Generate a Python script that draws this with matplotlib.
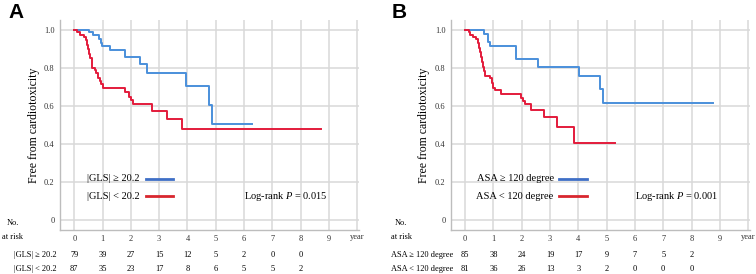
import numpy as np
import matplotlib
matplotlib.use('Agg')
import matplotlib.pyplot as plt

plt.rcParams['font.family'] = ['Liberation Serif', 'DejaVu Serif']
plt.rcParams['mathtext.fontset'] = 'custom'
plt.rcParams['mathtext.rm'] = 'Liberation Serif'
plt.rcParams['mathtext.it'] = 'Liberation Serif:italic'

# ---- data ----
years = list(range(10))

a_hi_t = [0, 0.52, 0.67, 0.88, 0.94, 0.98, 1.25, 1.78, 2.31, 2.57, 3.96, 4.76, 4.85, 6.28]
a_hi_s = [1.0, 0.988, 0.974, 0.956, 0.935, 0.918, 0.893, 0.856, 0.821, 0.772, 0.707, 0.605, 0.505, 0.505]
a_lo_t = [0, 0.08, 0.19, 0.34, 0.41, 0.45, 0.49, 0.52, 0.57, 0.61, 0.64, 0.72, 0.78, 0.84,
          0.90, 0.96, 1.02, 1.78, 1.94, 2.02, 2.08, 2.75, 3.26, 3.82, 8.70]
a_lo_s = [1.0, 0.991, 0.977, 0.965, 0.947, 0.921, 0.900, 0.877, 0.851, 0.825, 0.802, 0.789, 0.772, 0.749,
          0.732, 0.714, 0.696, 0.675, 0.649, 0.632, 0.611, 0.575, 0.532, 0.479, 0.479]

b_hi_t = [0, 0.67, 0.81, 0.89, 1.81, 2.59, 4.02, 4.78, 4.88, 8.75]
b_hi_s = [1.0, 0.982, 0.939, 0.917, 0.846, 0.804, 0.758, 0.688, 0.618, 0.618]
b_lo_t = [0, 0.12, 0.18, 0.27, 0.39, 0.44, 0.48, 0.51, 0.55, 0.59, 0.62, 0.65, 0.71, 0.88,
          0.94, 1.00, 1.06, 1.26, 1.97, 2.06, 2.12, 2.32, 2.77, 3.26, 3.85, 5.28]
b_lo_s = [1.0, 0.991, 0.977, 0.965, 0.953, 0.930, 0.907, 0.886, 0.860, 0.833, 0.807, 0.784, 0.760, 0.746,
          0.719, 0.693, 0.684, 0.663, 0.640, 0.625, 0.611, 0.577, 0.544, 0.489, 0.407, 0.407]

a_labels = ['|GLS| \u2265 20.2', '|GLS| < 20.2']
b_labels = ['ASA \u2265 120 degree', 'ASA < 120 degree']
a_risk_hi = [79, 39, 27, 15, 12, 5, 2, 0, 0]
a_risk_lo = [87, 35, 23, 17, 8, 6, 5, 5, 2]
b_risk_hi = [85, 38, 24, 19, 17, 9, 7, 5, 2]
b_risk_lo = [81, 36, 26, 13, 3, 2, 0, 0, 0]
a_pval = '0.015'
b_pval = '0.001'

BLUE = '#4A8FDB'
RED = '#E31B3B'
BLUE_LEG = '#3F6FC6'
RED_LEG = '#D8262E'
GRID = '#D9D9D9'

fig = plt.figure(figsize=(7.56, 2.74), dpi=100)
fig.set_facecolor('white')


def km_panel(rect, hi_t, hi_s, lo_t, lo_s, labels, risk_hi, risk_lo, pval,
             leg_x, no_x, at_x, row_x, ylab_x):
    ax = fig.add_axes(rect)
    ax.set_xlim(-0.5, 10.05)
    ax.set_ylim(-0.053, 1.053)
    for x in range(11):
        ax.axvline(x, color=GRID, lw=1.1, zorder=0)
    for y in np.arange(0, 1.01, 0.2):
        ax.axhline(y, color=GRID, lw=1.1, zorder=0)
    for s in ['top', 'right']:
        ax.spines[s].set_visible(False)
    for s in ['left', 'bottom']:
        ax.spines[s].set_color('#BDBDBD')
        ax.spines[s].set_linewidth(1.0)

    ax.step(hi_t, hi_s, where='post', color=BLUE, lw=1.4, zorder=3)
    ax.step(lo_t, lo_s, where='post', color=RED, lw=1.4, zorder=3)

    ax.set_yticks([0, 0.2, 0.4, 0.6, 0.8, 1.0])
    ax.set_yticklabels(['0', '0.2', '0.4', '0.6', '0.8', '1.0'], fontsize=6)
    ax.set_xticks(years)
    ax.set_xticklabels([str(y) for y in years], fontsize=6)
    ax.tick_params(axis='both', length=0, colors='#333333')
    ax.tick_params(axis='x', pad=3.5)
    ax.tick_params(axis='y', pad=4)
    ax.text(10, -0.089, 'year', ha='center', va='center', fontsize=6, color='#333333', clip_on=False)

    ax.set_ylabel('Free from cardiotoxicity', fontsize=8.5)
    ax.yaxis.set_label_coords(ylab_x, 0.5)

    # legend
    ax.text(leg_x, 0.216, labels[0], ha='right', va='center', fontsize=7.5)
    ax.text(leg_x, 0.126, labels[1], ha='right', va='center', fontsize=7.5)
    ax.plot([leg_x + 0.2, leg_x + 1.17], [0.216, 0.216], color=BLUE_LEG, lw=2.0)
    ax.plot([leg_x + 0.2, leg_x + 1.17], [0.126, 0.126], color=RED_LEG, lw=2.0)
    ax.text(6.0, 0.126, 'Log-rank $P$ = ' + pval, ha='left', va='center', fontsize=7.5)

    # numbers at risk
    ax.text(no_x, -0.014, 'No.', ha='left', va='center', fontsize=6, clip_on=False)
    ax.text(at_x, -0.089, 'at risk', ha='left', va='center', fontsize=6, clip_on=False)
    ax.text(row_x, -0.186, labels[0], ha='right', va='center', fontsize=6, clip_on=False)
    ax.text(row_x, -0.256, labels[1], ha='right', va='center', fontsize=6, clip_on=False)
    for x, n in zip(years, risk_hi):
        ax.text(x, -0.186, str(n), ha='center', va='center', fontsize=6, clip_on=False)
    for x, n in zip(years, risk_lo):
        ax.text(x, -0.256, str(n), ha='center', va='center', fontsize=6, clip_on=False)
    return ax


km_panel([0.0795, 0.1606, 0.395, 0.766], a_hi_t, a_hi_s, a_lo_t, a_lo_s, a_labels,
         a_risk_hi, a_risk_lo, a_pval, leg_x=2.32, no_x=-2.40, at_x=-2.56,
         row_x=-0.63, ylab_x=-0.066)
km_panel([0.5965, 0.1606, 0.395, 0.766], b_hi_t, b_hi_s, b_lo_t, b_lo_s, b_labels,
         b_risk_hi, b_risk_lo, b_pval, leg_x=3.13, no_x=-2.48, at_x=-2.61,
         row_x=-0.42, ylab_x=-0.071)

fig.text(0.011, 0.955, 'A', ha='left', va='center', fontsize=15, fontweight='bold',
         family=['Liberation Sans', 'DejaVu Sans'])
fig.text(0.518, 0.955, 'B', ha='left', va='center', fontsize=15, fontweight='bold',
         family=['Liberation Sans', 'DejaVu Sans'])

fig.savefig('out.png', dpi=100, facecolor='white')
